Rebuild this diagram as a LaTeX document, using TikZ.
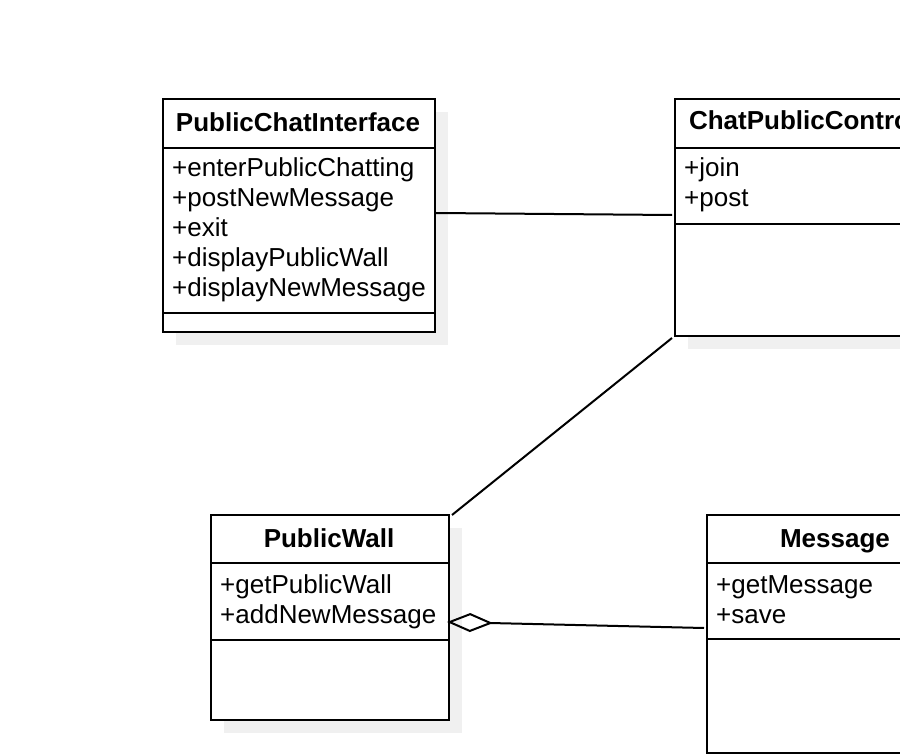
\documentclass[tikz,border=0pt]{standalone}
\usepackage{fontspec}
\setmainfont{Liberation Sans}
\usetikzlibrary{arrows.meta,calc}
\definecolor{shadowgray}{HTML}{F0F0F0}
\tikzset{
  classbox/.style={draw=black, line width=2pt, fill=white, rectangle, inner sep=0pt, anchor=north west},
  shadowbox/.style={fill=shadowgray, draw=none, rectangle, inner sep=0pt, anchor=north west},
  sepline/.style={draw=black, line width=2pt},
  conn/.style={draw=black, line width=2pt},
  hdr/.style={font=\fontsize{26}{30}\selectfont\bfseries, inner sep=0pt, anchor=base},
  mem/.style={font=\fontsize{26}{30}\selectfont, inner sep=0pt, anchor=base west},
}
\begin{document}
\begin{tikzpicture}[x=1pt,y=-1pt]
\useasboundingbox (0,0) rectangle (900,754);
\clip (0,0) rectangle (900,754);
\fill[white] (0,0) rectangle (900,754);
% shadows
\node[shadowbox, minimum width=272pt, minimum height=233pt] (pcis) at (176,112) {};
\node[shadowbox, minimum width=290pt, minimum height=237pt] (cpcs) at (688,112) {};
\node[shadowbox, minimum width=238pt, minimum height=205pt] (pws) at (224,528) {};
\node[shadowbox, minimum width=258pt, minimum height=238pt] (msgs) at (720,528) {};
% boxes
\node[classbox, minimum width=272pt, minimum height=233pt] (pci) at (162,98) {};
\node[classbox, minimum width=290pt, minimum height=237pt] (cpc) at (674,98) {};
\node[classbox, minimum width=238pt, minimum height=205pt] (pw) at (210,514) {};
\node[classbox, minimum width=258pt, minimum height=238pt] (msg) at (706,514) {};
% separators
\draw[sepline] (162,148) -- (434,148);
\draw[sepline] (162,313) -- (434,313);
\draw[sepline] (674,148) -- (964,148);
\draw[sepline] (674,224) -- (964,224);
\draw[sepline] (210,563) -- (448,563);
\draw[sepline] (210,640) -- (448,640);
\draw[sepline] (706,563) -- (964,563);
\draw[sepline] (706,639) -- (964,639);
% headers
\node[hdr] (pcih) at (298,132) {PublicChatInterface};
\node[hdr] (cpch) at (819,130) {ChatPublicController};
\node[hdr] (pwh) at (329,547) {PublicWall};
\node[hdr] (msgh) at (835,547) {Message};
% members
\node[mem] (m1) at (172,177) {+enterPublicChatting};
\node[mem] (m2) at (172,207) {+postNewMessage};
\node[mem] (m3) at (172,237) {+exit};
\node[mem] (m4) at (172,267) {+displayPublicWall};
\node[mem] (m5) at (172,297) {+displayNewMessage};
\node[mem] (c1) at (684,177) {+join};
\node[mem] (c2) at (684,207) {+post};
\node[mem] (w1) at (220,593) {+getPublicWall};
\node[mem] (w2) at (220,623) {+addNewMessage};
\node[mem] (g1) at (716,593) {+getMessage};
\node[mem] (g2) at (716,623) {+save};
% connectors
\coordinate (pciR) at ($(pci.north east)+(0,115)$);
\coordinate (cpcL) at ($(cpc.north west)+(-2,117)$);
\draw[conn] (pciR) -- (cpcL);
\draw[conn] ($(cpc.south west)+(-2,1)$) -- ($(pw.north east)+(2,1)$);
\coordinate (pwR) at ($(pw.north east)+(-3,108)$);
\coordinate (msgL) at ($(msg.north west)+(-2,114)$);
\draw[conn, -{Diamond[open, length=46pt, width=19pt, line width=2pt]}] (msgL) -- (pwR);
\end{tikzpicture}
\end{document}
